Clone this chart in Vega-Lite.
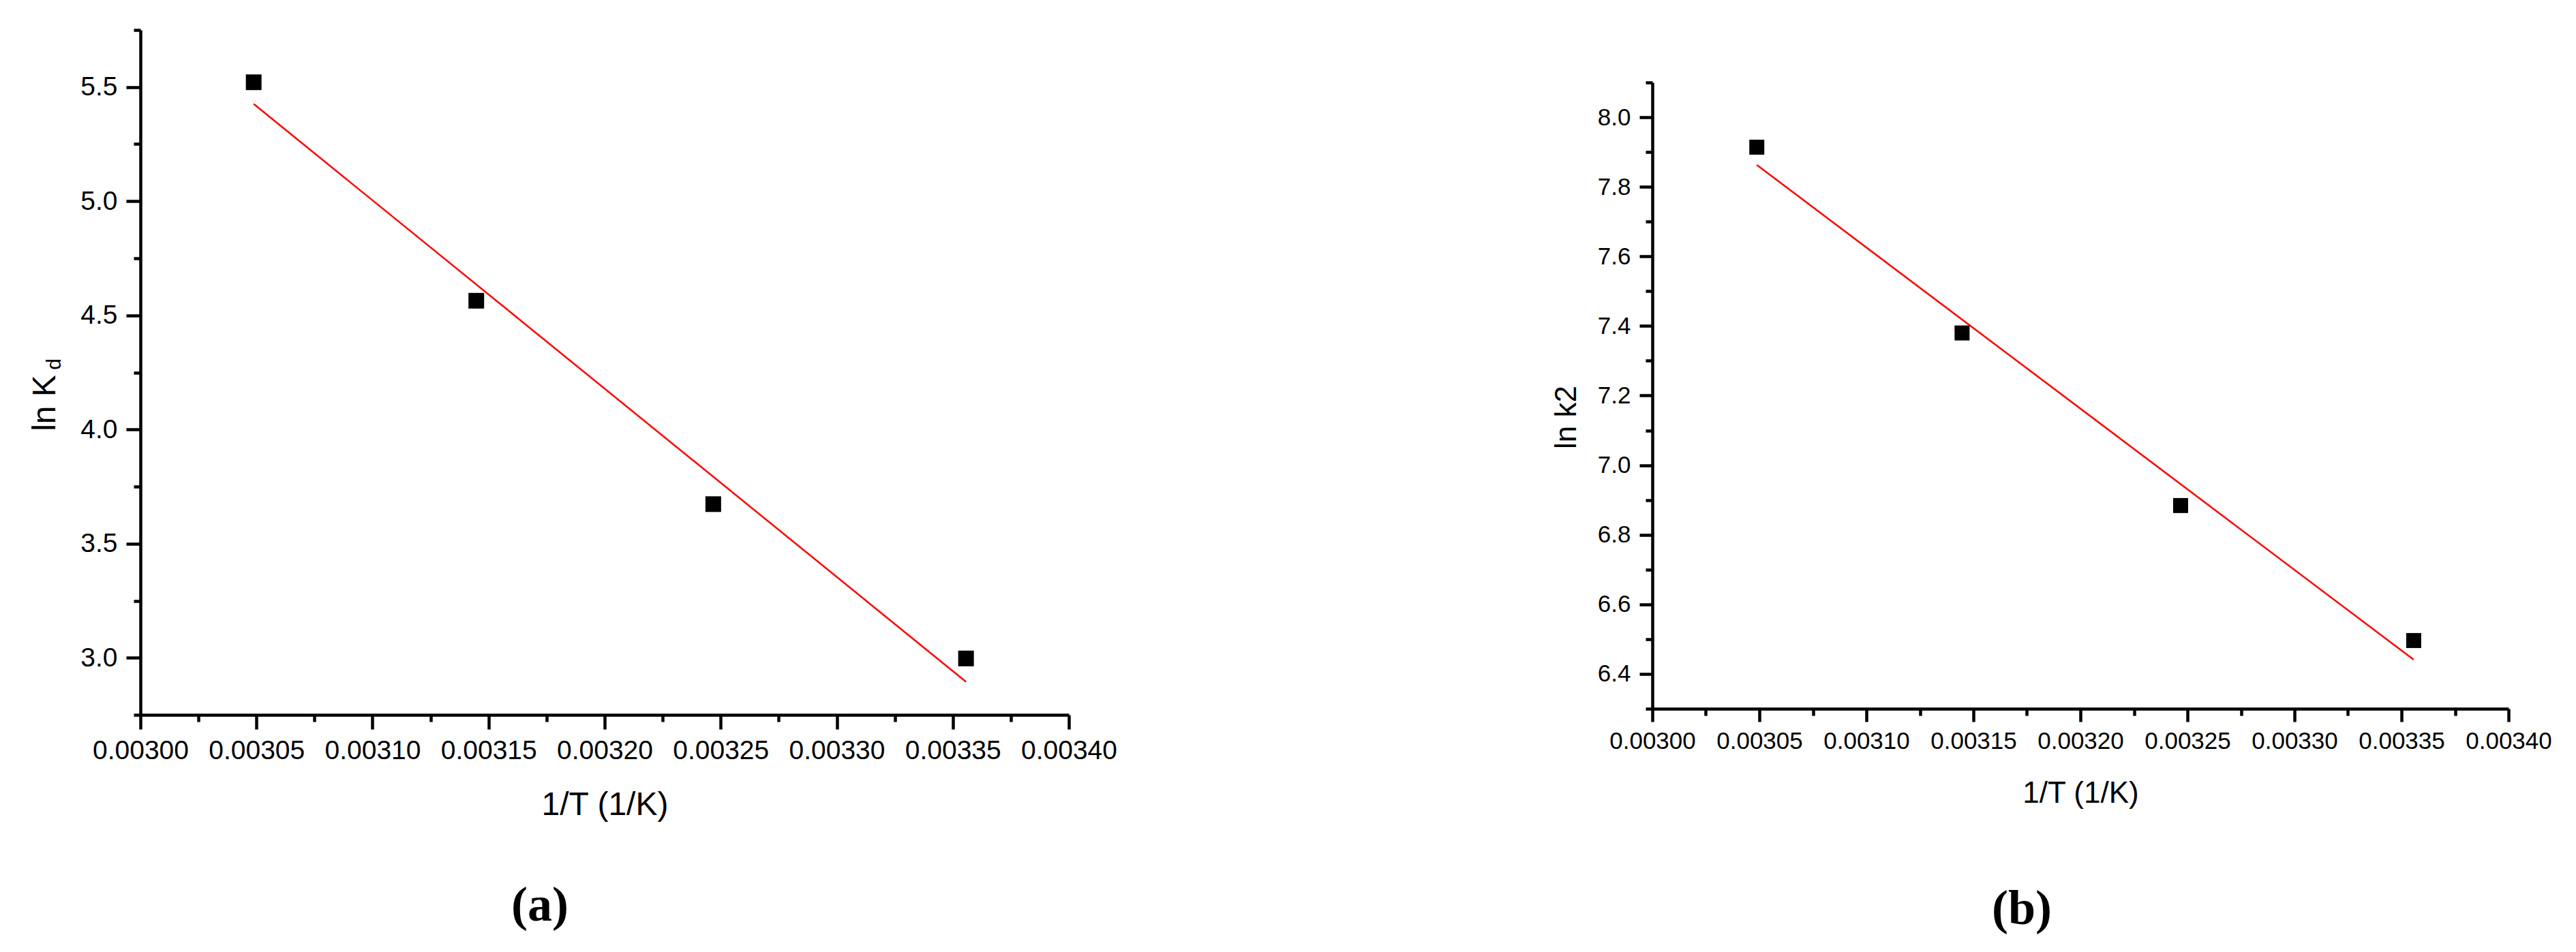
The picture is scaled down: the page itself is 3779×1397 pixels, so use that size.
{
  "$schema": "https://vega.github.io/schema/vega-lite/v6.json",
  "background": "white",
  "padding": {"left": 42, "top": 41, "right": 5, "bottom": 5},
  "config": {
    "view": {"stroke": null},
    "axis": {"labelFont": "Liberation Sans", "titleFont": "Liberation Sans", "labelColor": "black", "titleColor": "black", "tickColor": "black", "domainColor": "black", "grid": false, "titleFontWeight": "normal", "labelFlush": false, "labelOverlap": false}
  },
  "datasets": {
    "a_points": [
      {"invT": 0.0030488, "lnKd": 5.521},
      {"invT": 0.0031447, "lnKd": 4.564},
      {"invT": 0.0032468, "lnKd": 3.673},
      {"invT": 0.0033557, "lnKd": 2.997}
    ],
    "a_fit": [
      {"invT": 0.0030488, "lnKd": 5.426},
      {"invT": 0.0033557, "lnKd": 2.895}
    ],
    "b_points": [
      {"invT": 0.0030488, "lnk2": 7.914},
      {"invT": 0.0031447, "lnk2": 7.380},
      {"invT": 0.0032468, "lnk2": 6.884},
      {"invT": 0.0033557, "lnk2": 6.496}
    ],
    "b_fit": [
      {"invT": 0.0030488, "lnk2": 7.863},
      {"invT": 0.0033557, "lnk2": 6.441}
    ]
  },
  "spacing": 637,
  "hconcat": [
    {
      "width": 1362,
      "height": 1005,
      "title": {"text": "(a)", "orient": "bottom", "anchor": "middle", "frame": "group", "dx": -95, "offset": 89, "font": "Liberation Serif", "fontSize": 72, "fontWeight": "bold", "color": "black"},
      "layer": [
        {
          "data": {"name": "a_fit"},
          "mark": {"type": "line", "color": "#ff0000", "strokeWidth": 2.5},
          "encoding": {
            "x": {"field": "invT", "type": "quantitative", "scale": {"domain": [0.003, 0.0034], "nice": false, "zero": false},
              "axis": {"orient": "bottom", "values": [0.003025, 0.003075, 0.003125, 0.003175, 0.003225, 0.003275, 0.003325, 0.003375], "labels": false, "domain": false, "tickSize": 10, "tickWidth": 4.5, "title": null}},
            "y": {"field": "lnKd", "type": "quantitative", "scale": {"domain": [2.75, 5.75], "nice": false, "zero": false},
              "axis": {"orient": "left", "values": [2.75, 3.25, 3.75, 4.25, 4.75, 5.25, 5.75], "labels": false, "domain": false, "tickSize": 10, "tickWidth": 4.5,
                "title": "d", "titleFontSize": 30, "titleX": -118, "titleY": 490, "titleAngle": -90, "titleAlign": "center", "titleBaseline": "alphabetic"}}
          }
        },
        {
          "data": {"name": "a_points"},
          "mark": {"type": "point", "shape": "square", "filled": true, "size": 529, "color": "black", "opacity": 1, "strokeWidth": 0},
          "encoding": {
            "x": {"field": "invT", "type": "quantitative", "scale": {"domain": [0.003, 0.0034], "nice": false, "zero": false},
              "axis": {"orient": "bottom", "values": [0.003, 0.00305, 0.0031, 0.00315, 0.0032, 0.00325, 0.0033, 0.00335, 0.0034], "format": ".5f",
                "labelFontSize": 39, "labelPadding": 12, "tickSize": 21, "tickWidth": 4.5, "domainWidth": 4.5,
                "title": "1/T (1/K)", "titleFontSize": 48, "titleX": 681, "titleY": 146, "titleAngle": 0, "titleAlign": "center", "titleBaseline": "alphabetic"}},
            "y": {"field": "lnKd", "type": "quantitative", "scale": {"domain": [2.75, 5.75], "nice": false, "zero": false},
              "axis": {"orient": "left", "values": [3.0, 3.5, 4.0, 4.5, 5.0, 5.5], "format": ".1f",
                "labelFontSize": 39, "labelPadding": 13, "tickSize": 21, "tickWidth": 4.5, "domainWidth": 4.5,
                "title": "ln K", "titleFontSize": 48, "titleX": -126, "titleY": 547, "titleAngle": -90, "titleAlign": "center", "titleBaseline": "alphabetic"}}
          }
        }
      ],
      "resolve": {"scale": {"x": "independent", "y": "independent"}}
    },
    {
      "spacing": 0,
      "vconcat": [
        {
          "width": 1256,
          "height": 74,
          "data": {"values": [{}]},
          "mark": {"type": "point", "opacity": 0},
          "encoding": {}
        },
        {
          "width": 1256,
          "height": 919,
          "title": {"text": "(b)", "orient": "bottom", "anchor": "middle", "frame": "group", "dx": -86, "offset": 113, "font": "Liberation Serif", "fontSize": 72, "fontWeight": "bold", "color": "black"},
          "layer": [
            {
              "data": {"name": "b_fit"},
              "mark": {"type": "line", "color": "#ff0000", "strokeWidth": 2.5},
              "encoding": {
                "x": {"field": "invT", "type": "quantitative", "scale": {"domain": [0.003, 0.0034], "nice": false, "zero": false},
                  "axis": {"orient": "bottom", "values": [0.003025, 0.003075, 0.003125, 0.003175, 0.003225, 0.003275, 0.003325, 0.003375], "labels": false, "domain": false, "tickSize": 10, "tickWidth": 4.5, "title": null}},
                "y": {"field": "lnk2", "type": "quantitative", "scale": {"domain": [6.3, 8.1], "nice": false, "zero": false},
                  "axis": {"orient": "left", "values": [6.3, 6.5, 6.7, 6.9, 7.1, 7.3, 7.5, 7.7, 7.9, 8.1], "labels": false, "domain": false, "tickSize": 10, "tickWidth": 4.5, "title": null}}
              }
            },
            {
              "data": {"name": "b_points"},
              "mark": {"type": "point", "shape": "square", "filled": true, "size": 484, "color": "black", "opacity": 1, "strokeWidth": 0},
              "encoding": {
                "x": {"field": "invT", "type": "quantitative", "scale": {"domain": [0.003, 0.0034], "nice": false, "zero": false},
                  "axis": {"orient": "bottom", "values": [0.003, 0.00305, 0.0031, 0.00315, 0.0032, 0.00325, 0.0033, 0.00335, 0.0034], "format": ".5f",
                    "labelFontSize": 35, "labelPadding": 11, "tickSize": 19, "tickWidth": 4.5, "domainWidth": 4.5,
                    "title": "1/T (1/K)", "titleFontSize": 44, "titleX": 628, "titleY": 137, "titleAngle": 0, "titleAlign": "center", "titleBaseline": "alphabetic"}},
                "y": {"field": "lnk2", "type": "quantitative", "scale": {"domain": [6.3, 8.1], "nice": false, "zero": false},
                  "axis": {"orient": "left", "values": [6.4, 6.6, 6.8, 7.0, 7.2, 7.4, 7.6, 7.8, 8.0], "format": ".1f",
                    "labelFontSize": 35, "labelPadding": 13, "tickSize": 19, "tickWidth": 4.5, "domainWidth": 4.5,
                    "title": "ln k2", "titleFontSize": 44, "titleX": -113, "titleY": 491, "titleAngle": -90, "titleAlign": "center", "titleBaseline": "alphabetic"}}
              }
            }
          ],
          "resolve": {"scale": {"x": "independent", "y": "independent"}}
        }
      ]
    }
  ]
}
